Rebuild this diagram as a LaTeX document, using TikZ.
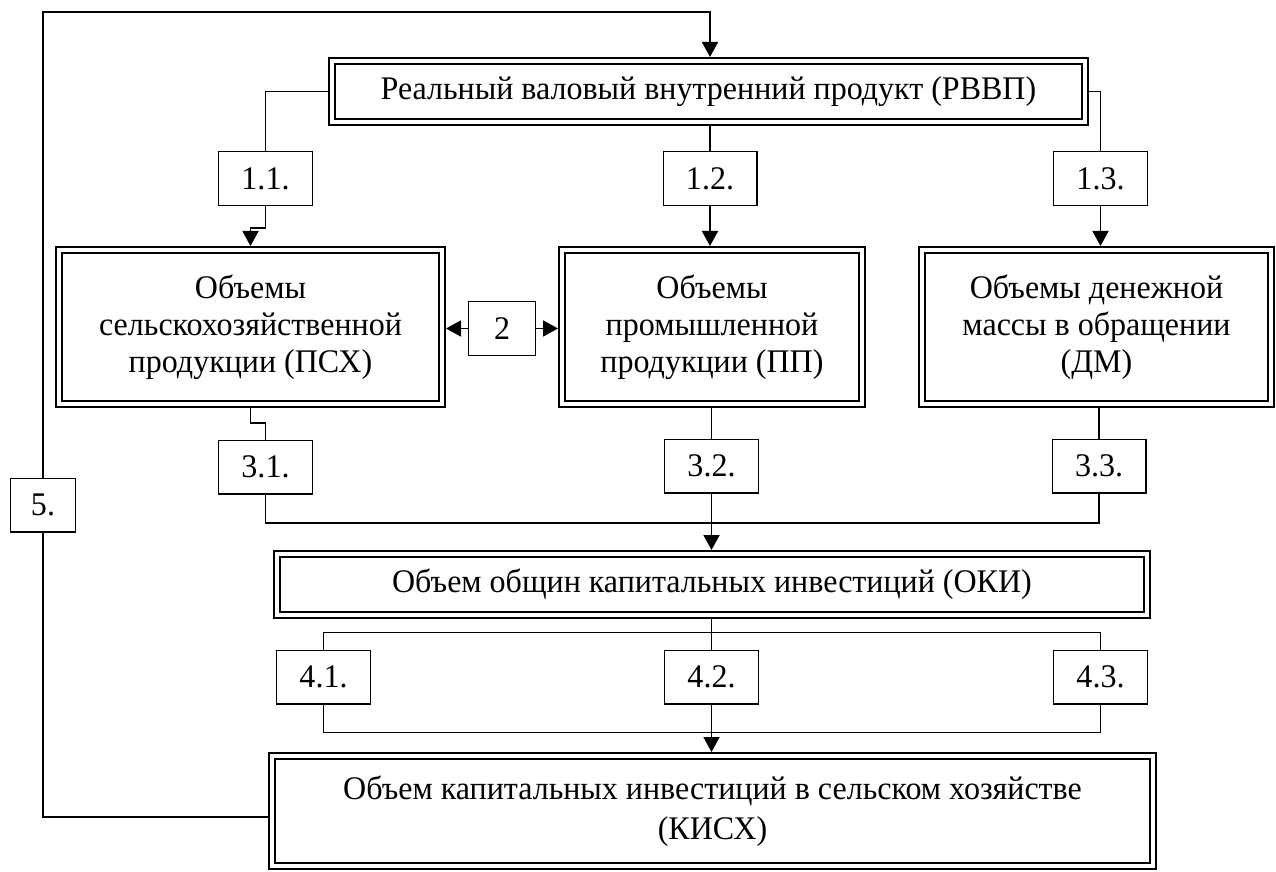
\documentclass[tikz,border=0pt]{standalone}
\usepackage{fontspec}
\setmainfont{Liberation Serif}[FakeStretch=0.97]
\usepackage{tikz}
\usetikzlibrary{arrows.meta,positioning,calc}
\definecolor{cInk}{RGB}{0,0,0}
\definecolor{cPaper}{RGB}{255,255,255}
\tikzset{
  basebox/.style={rectangle,draw=cInk,align=center,inner sep=0pt,
                  font=\fontsize{16.5}{18.5}\selectfont},
  dblnode/.style={basebox,line width=1pt,double=cPaper,double distance=2pt,
                  outer sep=2pt},
  numnode/.style={basebox,line width=0.6pt,minimum width=46.9pt,
                  minimum height=26.9pt,outer sep=0.3pt},
  lin/.style={line width=0.65pt,color=cInk},
  arr/.style={-{Triangle[length=7.5pt,width=8pt]},line width=0.9pt,color=cInk}
}
\begin{document}
\begin{tikzpicture}[x=0.5pt,y=-0.5pt]
  \useasboundingbox (0,0) rectangle (1276,872);

  % main blocks
  \node[dblnode,minimum width=376.5pt,minimum height=30.5pt] (rvvp) at (708.5,91.5)
      {Реальный валовый внутренний продукт (РВВП)};
  \node[dblnode,minimum width=191.5pt,minimum height=77pt] (psx) at (250.5,327)
      {Объемы\\сельскохозяйственной\\продукции (ПСХ)};
  \node[dblnode,minimum width=150pt,minimum height=77pt] (pp) at (712,327)
      {Объемы\\промышленной\\продукции (ПП)};
  \node[dblnode,minimum width=174.5pt,minimum height=77pt] (dm) at (1096.5,327)
      {Объемы денежной\\массы в обращении\\(ДМ)};
  \node[dblnode,minimum width=435pt,minimum height=30.5pt] (oki) at (712,584.5)
      {Объем общин капитальных инвестиций (ОКИ)};
  \node[dblnode,minimum width=440.5pt,minimum height=55pt,
        font=\fontsize{16.5}{20}\selectfont] (kisx) at (712.5,811)
      {Объем капитальных инвестиций в сельском хозяйстве\\(КИСХ)};

  % numbered links
  \node[numnode] (b11) at (265.5,178.5) {1.1.};
  \node[numnode] (b12) at (710,178.5) {1.2.};
  \node[numnode] (b13) at (1100.5,178.5) {1.3.};
  \node[numnode,minimum width=33.4pt] (b2) at (502,328.5) {2};
  \node[numnode] (b31) at (265.5,467) {3.1.};
  \node[numnode] (b32) at (711.5,466) {3.2.};
  \node[numnode] (b33) at (1099,466) {3.3.};
  \node[numnode] (b41) at (323.5,677) {4.1.};
  \node[numnode] (b42) at (711.5,677) {4.2.};
  \node[numnode] (b43) at (1100.5,677) {4.3.};
  \node[numnode,minimum width=32.4pt] (b5) at (43,505) {5.};

  \coordinate (jn3) at (711.5,523);
  \coordinate (lptop) at (710,12);

  % RVVP -> PSX, PP, DM
  \draw[lin] (rvvp.west) -| (b11.north);
  \draw[arr] (b11.south) -- ++(0,22) -| (psx.north);
  \draw[lin] (b12.north |- rvvp.south) -- (b12.north);
  \draw[arr] (b12.south) -- (b12.south |- pp.north);
  \draw[lin] (rvvp.east) -| (b13.north);
  \draw[arr] (b13.south) -- (b13.south |- dm.north);

  % PSX <-> PP
  \draw[arr] (b2.west) -- (b2.west -| psx.east);
  \draw[arr] (b2.east) -- (b2.east -| pp.west);

  % PSX, PP, DM -> OKI
  \draw[lin] (psx.south) -- ++(0,15) -| (b31.north);
  \draw[lin] (b32.north |- pp.south) -- (b32.north);
  \draw[lin] (b33.north |- dm.south) -- (b33.north);
  \draw[lin] (b31.south) |- (jn3);
  \draw[lin] (b33.south) |- (jn3);
  \draw[arr] (b32.south) -- (b32.south |- oki.north);

  % OKI -> KISX
  \draw[lin] (b42.north |- oki.south) -- (b42.north);
  \draw[lin] (b41.north) -- ++(0,-17) -| (b43.north);
  \draw[lin] (b41.south) -- ++(0,28) -| (b43.south);
  \draw[arr] (b42.south) -- (b42.south |- kisx.north);

  % feedback KISX -> RVVP
  \draw[lin] ([yshift=-3pt]kisx.west) -| (b5.south);
  \draw[arr] (b5.north) |- (lptop) -- (lptop |- rvvp.north);

\end{tikzpicture}
\end{document}
